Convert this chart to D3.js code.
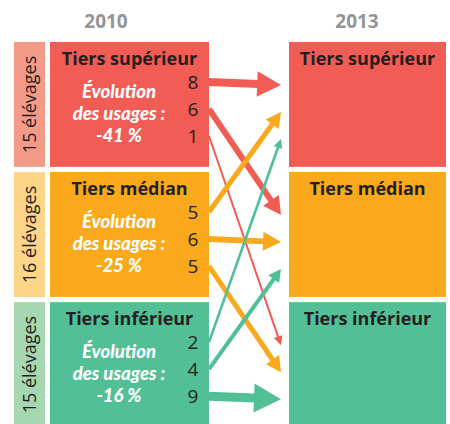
<!DOCTYPE html>
<html>
<head>
<meta charset="utf-8">
<script src="https://cdn.jsdelivr.net/npm/d3@7"></script>
<style>
  body { margin: 0; background: #fff; }
  svg { display: block; font-family: 'Open Sans', sans-serif; }
</style>
</head>
<body>
<div id="chart"></div>
<script>
const years = ['2010', '2013'];
const tiers = ['Tiers supérieur', 'Tiers médian', 'Tiers inférieur'];
const farmCounts = [15, 16, 15];
const usageChange = [-41, -25, -16];
// rows: tier in 2010, columns: tier in 2013
const flows = [
  [8, 6, 1],
  [5, 6, 5],
  [2, 4, 9]
];

const width = 450;
const height = 424;

const boxColors = ['#F15C55', '#F9A91B', '#52BF96'];
const stripColors = ['#F49A88', '#FDD588', '#A5D8B1'];
const ink = '#231F20';

const svg = d3.select('#chart').append('svg')
  .attr('width', width).attr('height', height);

const y = d3.scaleBand().domain(tiers).range([42, 427]).paddingInner(0.04);
const slotSrc = d3.scalePoint().domain([0, 1, 2]).range([40, 94]);
const slotDst = d3.scalePoint().domain([0, 1, 2]).range([43, 97]);
const strokeW = d3.scalePow().exponent(1.3).domain([1, 9]).range([2, 9]);

const leftX = 50, leftW = 159;
const rightX = 289, rightW = 157;
const stripX = 14, stripW = 31;
const tipX = 281;

// year headers
svg.selectAll('text.year')
  .data(years)
  .join('text')
  .attr('class', 'year')
  .attr('x', (d, i) => i === 0 ? 106 : 357)
  .attr('y', 28)
  .attr('text-anchor', 'middle')
  .attr('font-size', 19)
  .attr('font-weight', 700)
  .attr('fill', '#939598')
  .text(d => d);

// farm count strips
const strips = svg.selectAll('g.strip')
  .data(tiers)
  .join('g')
  .attr('class', 'strip');
strips.append('rect')
  .attr('x', stripX).attr('y', d => y(d))
  .attr('width', stripW).attr('height', y.bandwidth())
  .attr('fill', (d, i) => stripColors[i]);
strips.append('text')
  .attr('transform', d => `translate(${stripX + stripW / 2 + 6},${y(d) + y.bandwidth() / 2}) rotate(-90)`)
  .attr('text-anchor', 'middle')
  .attr('font-size', 18)
  .attr('fill', ink)
  .text((d, i) => `${farmCounts[i]} élévages`);

// 2010 boxes
const left = svg.selectAll('g.left')
  .data(tiers)
  .join('g')
  .attr('class', 'left');
left.append('rect')
  .attr('x', leftX).attr('y', d => y(d))
  .attr('width', leftW).attr('height', y.bandwidth())
  .attr('fill', (d, i) => boxColors[i]);
left.append('text')
  .attr('x', leftX + leftW / 2).attr('y', d => y(d) + 23)
  .attr('text-anchor', 'middle')
  .attr('font-size', 18).attr('font-weight', 700)
  .attr('fill', ink)
  .text(d => d);
left.each(function (d, i) {
  const g = d3.select(this);
  const lines = ['Évolution', 'des usages :', `${usageChange[i]} %`];
  g.selectAll('text.evo')
    .data(lines)
    .join('text')
    .attr('class', 'evo')
    .attr('x', leftX + 69)
    .attr('y', (l, j) => y(d) + 56 + j * 22)
    .attr('text-anchor', 'middle')
    .attr('font-family', 'Lato, sans-serif')
    .attr('font-size', 18.5).attr('font-weight', 900).attr('font-style', 'italic')
    .attr('fill', '#fff')
    .text(l => l);
  g.selectAll('text.num')
    .data(flows[i])
    .join('text')
    .attr('class', 'num')
    .attr('x', 193)
    .attr('y', (v, j) => y(d) + slotSrc(j) + 7)
    .attr('text-anchor', 'middle')
    .attr('font-size', 19)
    .attr('fill', ink)
    .text(v => v);
});

// 2013 boxes
const right = svg.selectAll('g.right')
  .data(tiers)
  .join('g')
  .attr('class', 'right');
right.append('rect')
  .attr('x', rightX).attr('y', d => y(d))
  .attr('width', rightW).attr('height', y.bandwidth())
  .attr('fill', (d, i) => boxColors[i]);
right.append('text')
  .attr('x', rightX + rightW / 2).attr('y', d => y(d) + 23)
  .attr('text-anchor', 'middle')
  .attr('font-size', 18).attr('font-weight', 700)
  .attr('fill', ink)
  .text(d => d);

// flow arrows
const arrows = [];
flows.forEach((row, i) => row.forEach((v, j) => {
  arrows.push({ from: i, to: j, value: v });
}));

const ag = svg.append('g');
arrows.forEach(a => {
  const x0 = leftX + leftW, y0 = y(tiers[a.from]) + slotSrc(a.to);
  const x1 = tipX, y1 = y(tiers[a.to]) + slotDst(a.from);
  const w = strokeW(a.value);
  const hl = Math.max(9, 3 * w), hw = Math.max(4.5, 1.6 * w);
  const ang = Math.atan2(y1 - y0, x1 - x0);
  const cos = Math.cos(ang), sin = Math.sin(ang);
  const bx = x1 - hl * cos, by = y1 - hl * sin;
  const color = boxColors[a.from];
  ag.append('line')
    .attr('x1', x0).attr('y1', y0)
    .attr('x2', bx + cos).attr('y2', by + sin)
    .attr('stroke', color)
    .attr('stroke-width', w);
  ag.append('path')
    .attr('d', d3.line()([
      [x1, y1],
      [bx - hw * sin, by + hw * cos],
      [bx + hw * sin, by - hw * cos]
    ]) + 'Z')
    .attr('fill', color);
});
</script>
</body>
</html>
